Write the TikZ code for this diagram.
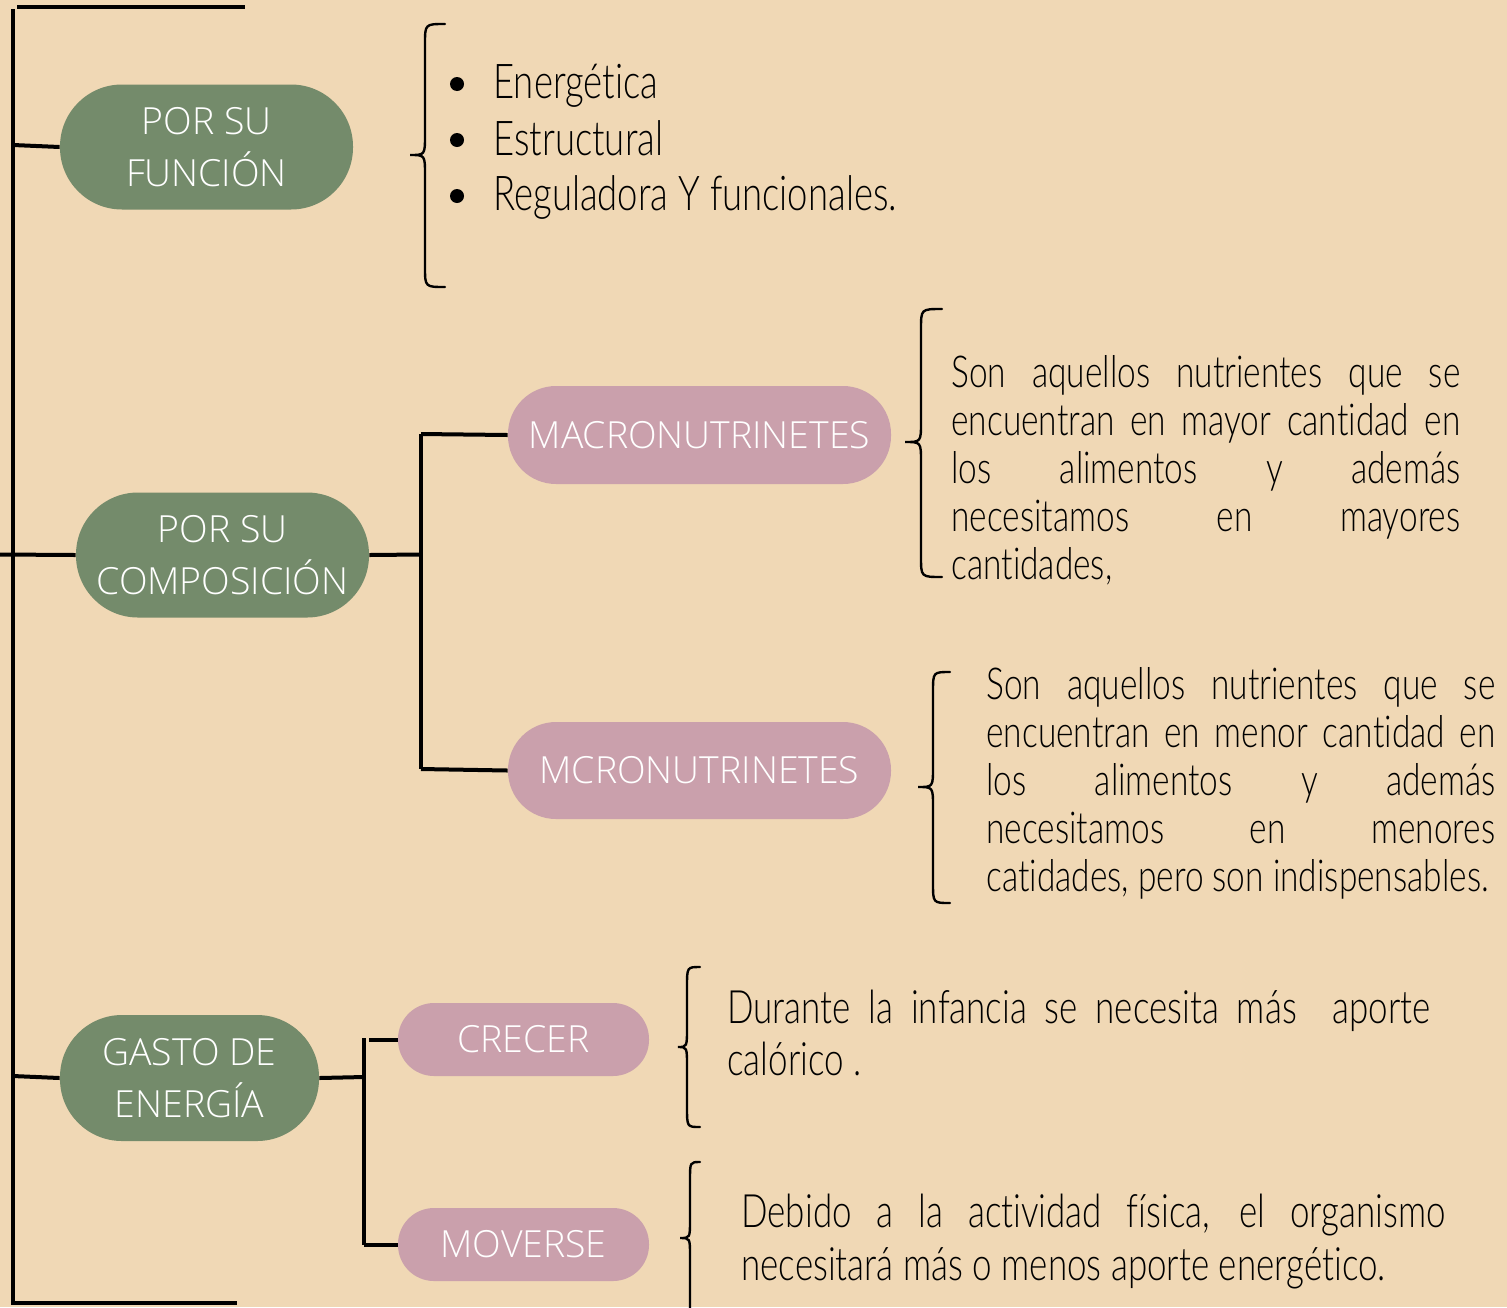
\documentclass[tikz,border=0pt]{standalone}
\usepackage{fontspec}
\setmainfont{Open Sans}
\newfontfamily\handfont{Lato Light}[FakeStretch=0.76,Ligatures=NoCommon]
\newfontfamily\boxfont{Open Sans Light}
\definecolor{bgc}{RGB}{240,216,181}
\definecolor{sage}{RGB}{116,139,107}
\definecolor{rose}{RGB}{202,160,172}
\newcommand\bracepath[6]{% xr, xm, xt, ytop, ytip, ybot
  \draw[bracestyle] (#1,#4) .. controls (#2,#4) .. (#2,#4+20) -- (#2,#5-20)
    .. controls (#2,#5) .. (#3,#5) .. controls (#2,#5) .. (#2,#5+20) -- (#2,#6-20)
    .. controls (#2,#6) .. (#1,#6);}
\tolerance=10000
\hbadness=10000
\hyphenpenalty=10000
\begin{document}
\begin{tikzpicture}[x=0.5pt,y=-0.5pt,
  link/.style={line width=2pt, black},
  bracestyle/.style={line width=1.2pt, line cap=round, black},
  mainbox/.style={fill=sage, text=white, font=\boxfont\fontsize{18.7}{26}\selectfont, align=center, inner sep=0pt, minimum width=146.5pt, minimum height=62.5pt, rounded corners=31pt},
  subbox/.style={fill=rose, text=white, font=\boxfont\fontsize{18.7}{26}\selectfont, align=center, inner sep=0pt, minimum width=191.5pt, minimum height=49pt, rounded corners=24pt},
  smallbox/.style={fill=rose, text=white, font=\boxfont\fontsize{18.7}{24}\selectfont, align=center, inner sep=0pt, minimum width=125.5pt, minimum height=36.5pt, rounded corners=18pt},
  handtext/.style={anchor=base west, inner sep=0pt, text=black, align=justify},
  bulletdot/.style={circle, fill=black, inner sep=0pt, minimum size=7pt}
]
\fill[bgc] (0,0) rectangle (1507,1307);
\useasboundingbox (0,0) rectangle (1507,1307);

% trunk
\coordinate (tTop) at (13,9);
\coordinate (tBot) at (13,1305);
\coordinate (tTopR) at (245,7);
\coordinate (tTopL) at (17,7);
\coordinate (tBotL) at (13,1303);
\coordinate (tBotR) at (237,1303);
\draw[link] (tTop) -- (tBot);
\draw[link] (tTopL) -- (tTopR);
\draw[link] (tBotL) -- (tBotR);

% main nodes
\node[mainbox] (fun) at (206.5,147) {POR SU\\FUNCIÓN};
\node[mainbox] (comp) at (222.5,555) {POR SU\\COMPOSICIÓN};
\node[mainbox, minimum width=129.5pt, minimum height=63pt] (ener) at (189.5,1078) {GASTO DE\\ENERGÍA};

\node[subbox] (macro) at (699.5,435) {MACRONUTRINETES};
\node[subbox, minimum height=48.5pt] (micro) at (699.5,770.5) {MCRONUTRINETES};
\node[smallbox] (crecer) at (523.5,1039.5) {CRECER};
\node[smallbox] (mover) at (523.5,1244.5) {MOVERSE};

% connectors
\coordinate (t1) at (13,145);
\draw[link] (t1) -- (fun.west);
\coordinate (t2) at (0,554.5);
\draw[link] (t2) -- (comp.west);
\coordinate (j1) at (421,554.5);
\coordinate (j1a) at (421,434);
\coordinate (j1b) at (421,769);
\draw[link] (comp.east) -- (j1);
\draw[link] (j1a) -- (j1b);
\draw[link] (j1a) -- (macro.west);
\draw[link] (j1b) -- (micro.west);
\coordinate (t3) at (13,1076);
\draw[link] (t3) -- (ener.west);
\coordinate (j2) at (364,1077);
\coordinate (j2a) at (364,1038);
\coordinate (j2b) at (364,1244.5);
\coordinate (j2c) at (369,1039.5);
\draw[link] (ener.east) -- (j2);
\draw[link] (j2a) -- (j2b);
\draw[link] (j2c) -- (crecer.west);
\draw[link] (j2b) -- (mover.west);

% braces
\bracepath{445}{425}{410}{24}{155}{287}
\bracepath{942}{921}{905}{309}{442}{577}
\bracepath{950}{933}{918}{672}{787}{903}
\bracepath{700}{687}{678}{967}{1047}{1127}
\draw[bracestyle] (700,1162) .. controls (690,1162) .. (690,1180) -- (690,1220)
  .. controls (690,1238) .. (680,1238) .. controls (690,1238) .. (690,1256) -- (690,1310);

% list
\node[bulletdot] (b1) at (457,84) {};
\node[bulletdot] (b2) at (457,140) {};
\node[bulletdot] (b3) at (457,196) {};
\node[handtext, font=\handfont\fontsize{24}{28}\selectfont] (l1) at (493,98) {Energética};
\node[handtext, font=\handfont\fontsize{24}{28}\selectfont] (l2) at (493,155) {Estructural};
\node[handtext, font=\handfont\fontsize{24}{28}\selectfont] (l3) at (493,210) {Reguladora Y funcionales.};

% paragraphs
\node[handtext, text width=254.5pt, font=\handfont\fontsize{22}{24}\selectfont] (p1) at (951,387)
 {Son aquellos nutrientes que se\linebreak encuentran en mayor cantidad en\linebreak los alimentos y además\linebreak necesitamos en mayores\linebreak cantidades,};
\node[handtext, text width=254.5pt, font=\handfont\fontsize{22}{24}\selectfont] (p2) at (986,699)
 {Son aquellos nutrientes que se\linebreak encuentran en menor cantidad en\linebreak los alimentos y además\linebreak necesitamos en menores\linebreak catidades, pero son indispensables.};
\node[handtext, text width=351.5pt, font=\handfont\fontsize{23}{26}\selectfont] (p3) at (727,1023)
 {Durante la infancia se necesita más\ \ aporte\linebreak calórico .};
\node[handtext, text width=352pt, font=\handfont\fontsize{23}{26.5}\selectfont] (p4) at (741,1227)
 {Debido a la actividad física, el organismo\linebreak necesitará más o menos aporte energético.};
\end{tikzpicture}
\end{document}
